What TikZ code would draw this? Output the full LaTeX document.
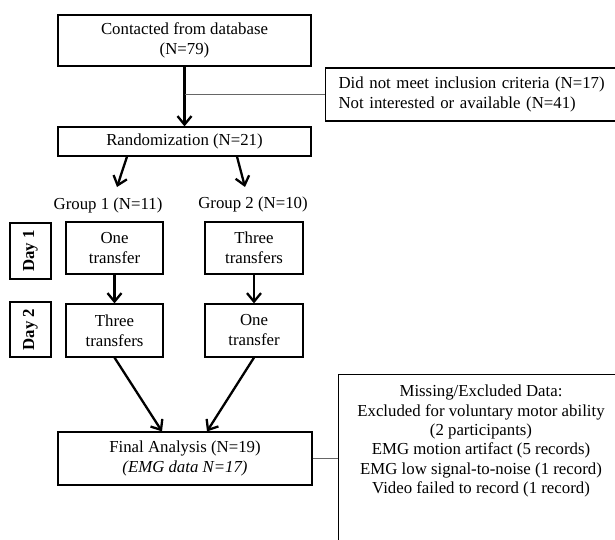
\documentclass[tikz,border=0pt]{standalone}
\usepackage{fontspec}
\setmainfont{Liberation Serif}
\usepackage{tikz}
\usetikzlibrary{arrows.meta,positioning,calc}

\begin{document}
\begin{tikzpicture}[>=Stealth, x=1pt, y=-1pt,
        every node/.style={font=\fontsize{16.8}{20}\selectfont, inner sep=0pt},
        box/.style={draw, line width=1.2pt, align=center},
        arr/.style={line width=2.3pt, -{Straight Barb[length=8.5pt,width=14pt]}},
        link/.style={draw=black!60, line width=1pt}]
        \clip (0,0) rectangle (615,540);

        % Enrolment
        \node[box, minimum width=253, minimum height=51] (contact) at (184.5,40.5) {Contacted from database\\(N=79)};
        \node[box, anchor=west, minimum height=53, inner xsep=13pt, text width=300, align=left] (excl) at (325,94.5)
            {Did not meet inclusion criteria (N=17)\\Not interested or available (N=41)};
        \node[box, minimum width=253, minimum height=29] (rand) at (184.5,141.5) {Randomization (N=21)};

        \draw[arr] (contact.south) -- (rand.north);
        \draw[link] (excl.west) -- (excl.west -| contact.south);

        % Groups
        \node (grpA) at (108,205) {Group 1 (N=11)};
        \node (grpB) at (253,204) {Group 2 (N=10)};
        \coordinate (tipA) at (117,187);
        \coordinate (tipB) at (245,187);
        \draw[arr] ([xshift=-57.5]rand.south) -- (tipA);
        \draw[arr] ([xshift=52.5]rand.south) -- (tipB);

        % Days
        \node[box, rotate=90, minimum width=56, minimum height=41, font=\fontsize{16.8}{20}\selectfont\bfseries] (dayA) at (30.5,251) {Day 1};
        \node[box, rotate=90, minimum width=55, minimum height=41, font=\fontsize{16.8}{20}\selectfont\bfseries] (dayB) at (30.5,329.5) {Day 2};

        % Sessions
        \node[box, minimum width=97, minimum height=52] (a1) at (114.5,248) {One\\transfer};
        \node[box, minimum width=98, minimum height=52] (b1) at (254,248) {Three\\transfers};
        \node[box, minimum width=97, minimum height=53] (a2) at (114.5,330.5) {Three\\transfers};
        \node[box, minimum width=98, minimum height=53] (b2) at (254,330.5) {One\\transfer};

        \draw[arr] (a1.south) -- (a2.north);
        \draw[arr] (b1.south) -- (b2.north);

        % Analysis
        \node[box, minimum width=254, minimum height=53] (final) at (185,458.5) {Final Analysis (N=19)\\\textit{(EMG data N=17)}};
        \draw[arr] (a2.south) -- ([xshift=-23]final.north);
        \draw[arr] (b2.south) -- ([xshift=22]final.north);

        \node[box, anchor=north west, minimum width=290, minimum height=190] (missbox) at (338,374) {};
        \node[anchor=north, align=center, font=\fontsize{16.8}{19.3}\selectfont] (missing) at (481,385)
            {Missing/Excluded Data:\\Excluded for voluntary motor ability\\(2 participants)\\EMG motion artifact (5 records)\\EMG low signal-to-noise (1 record)\\Video failed to record (1 record)};
        \draw[link] (final.east) -- (final.east -| missbox.west);
\end{tikzpicture}
\end{document}
